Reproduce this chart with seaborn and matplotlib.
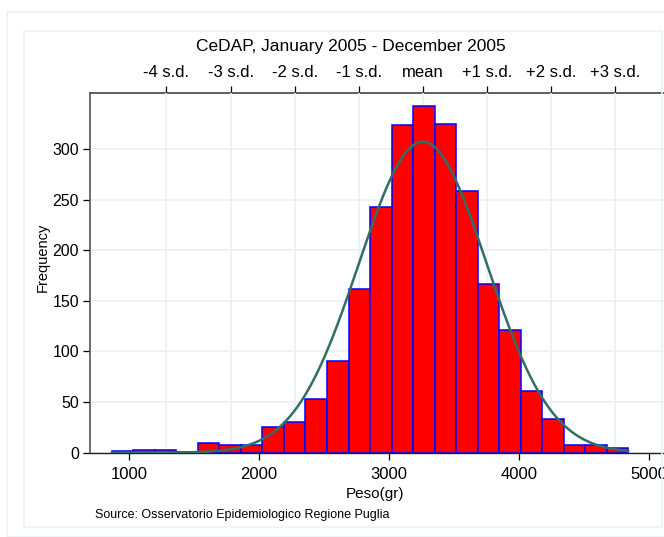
import numpy as np
import pandas as pd
import matplotlib
matplotlib.use("Agg")
import matplotlib.pyplot as plt
import seaborn as sns
from matplotlib.patches import Rectangle

# --- data ---
bin_start = 867      # grams, left edge of first bar
bin_width = 165.6    # grams
counts = [2, 3, 3, 1, 10, 8, 8, 25, 30, 53, 91, 162, 243,
          324, 343, 325, 259, 167, 121, 61, 33, 8, 8, 5]
mean_w = 3260
sd_w = 493
sd_steps = [-4, -3, -2, -1, 0, 1, 2, 3]
sd_labels = ["-4 s.d.", "-3 s.d.", "-2 s.d.", "-1 s.d.", "mean",
             "+1 s.d.", "+2 s.d.", "+3 s.d."]
x_ticks = [1000, 2000, 3000, 4000, 5000]
y_ticks = [0, 50, 100, 150, 200, 250, 300]

edges = bin_start + bin_width * np.arange(len(counts) + 1)
df = pd.DataFrame({"peso": (edges[:-1] + edges[1:]) / 2, "n": counts})

sns.set_style("white")
plt.rcParams["font.family"] = ["Liberation Sans", "DejaVu Sans"]
for k in ["text.color", "axes.labelcolor", "xtick.color", "ytick.color"]:
    plt.rcParams[k] = "black"

fig = plt.figure(figsize=(6.64, 5.37), dpi=100)
W, H = 664, 537

# light frames around the graph like Stata
fig.patches.append(Rectangle((7 / W, 0), 1, 1 - 12 / H, transform=fig.transFigure,
                             fill=False, edgecolor="#edf1f3", lw=1.2))
fig.patches.append(Rectangle((24 / W, 1 - 527 / H), (662 - 24) / W, (527 - 31) / H,
                             transform=fig.transFigure, fill=False,
                             edgecolor="#edf1f3", lw=1.2))

ax_right = 672
ax = fig.add_axes([90 / W, 1 - 452.7 / H, (ax_right - 90) / W, (452.7 - 92.7) / H])

sns.histplot(data=df, x="peso", weights="n", bins=list(edges), ax=ax,
             color="#ff0000", edgecolor="#0000ff", linewidth=1.1, alpha=1, zorder=2)

# normal curve overlay
N = sum(counts)
xs = np.linspace(edges[0], edges[-1], 400)
dens = N * bin_width / (sd_w * np.sqrt(2 * np.pi)) * np.exp(-0.5 * ((xs - mean_w) / sd_w) ** 2)
sns.lineplot(x=xs, y=dens, ax=ax, color="#2f6f66", lw=1.8, zorder=3)

x_left = 1000 - (129 - 90) / 130 * 1000
x_right = 1000 + (ax_right - 129) / 130 * 1000
ax.set_xlim(x_left, x_right)
ax.set_ylim(0, 355.7)

sd_pos = [mean_w + k * sd_w for k in sd_steps]
ax.set_xticks(x_ticks)
ax.set_xticks(sd_pos, minor=True)
ax.set_yticks(y_ticks)
ax.set_yticklabels([str(v) for v in y_ticks])
ax.grid(False)
ax.grid(which="minor", axis="x", color="#eaf1f3", lw=1.2, zorder=0)
ax.grid(which="major", axis="y", color="#eaf1f3", lw=1.2, zorder=0)
ax.set_axisbelow(True)

ax.tick_params(axis="x", which="major", direction="out", length=5, width=0.9,
               labelsize=12, pad=5, bottom=True)
ax.tick_params(axis="x", which="minor", length=0)
ax.tick_params(axis="y", direction="out", length=5, width=0.9, labelsize=11.5,
               pad=3, left=True)

for s in ["right", "top"]:
    ax.spines[s].set_visible(False)
ax.spines["left"].set_color("#555555")
ax.spines["left"].set_linewidth(1.2)
ax.spines["bottom"].set_color("#222222")
ax.spines["bottom"].set_linewidth(1.0)

ax.set_xlabel("Peso(gr)", fontsize=11)
ax.set_ylabel("Frequency", fontsize=10.5)
ax.xaxis.set_label_coords((375 - 90) / (ax_right - 90), -(494 - 452.7) / 360)
ax.yaxis.set_label_coords(-(90 - 43) / (ax_right - 90), (452.7 - 257) / 360)
ax.xaxis.label.set_va("center")
ax.yaxis.label.set_va("center")

# top axis with standard deviation marks
top = ax.secondary_xaxis("top")
top.set_xticks(sd_pos)
top.set_xticklabels(sd_labels)
top.tick_params(direction="out", length=5, width=0.9, labelsize=12, pad=4)
top.spines["top"].set_color("#444444")
top.spines["top"].set_linewidth(1.2)

fig.text(351 / W, 1 - 46 / H, "CeDAP, January 2005 - December 2005",
         ha="center", va="center", fontsize=12.5)
fig.text(95 / W, 1 - 515 / H, "Source: Osservatorio Epidemiologico Regione Puglia",
         ha="left", va="center", fontsize=9)

fig.savefig("out.png", dpi=100)
